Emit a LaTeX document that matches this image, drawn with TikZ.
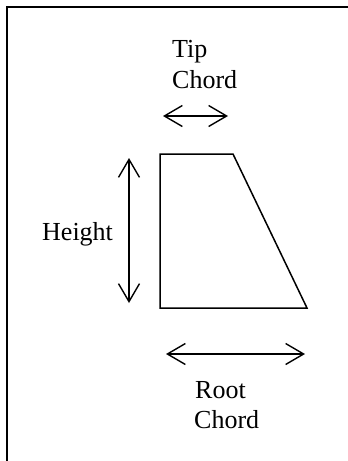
\documentclass[tikz,border=0pt]{standalone}
\usepackage{fontspec}
\setmainfont{Liberation Serif}
\usetikzlibrary{arrows.meta}
\begin{document}
\begin{tikzpicture}[x=1pt,y=-1pt,
  lbl/.style={anchor=base west,inner sep=0pt,font=\fontsize{26}{31}\selectfont,align=left},
  dimarrow/.style={line width=1.4pt,{Straight Barb[length=18pt,width=21pt,line width=1.4pt]}-{Straight Barb[length=18pt,width=21pt,line width=1.4pt]}},
  shapeline/.style={line width=1.5pt,line join=miter}]
\useasboundingbox (0,0) rectangle (348,461);
% frame (continues past right and bottom edges)
\draw[line width=1.7pt] (7,461) -- (7,7) -- (348,7);
% trapezoid
\coordinate (tl) at (160,154);
\coordinate (tr) at (233,154);
\coordinate (br) at (307,308);
\coordinate (bl) at (160,308);
\draw[shapeline] (tl) -- (tr) -- (br) -- (bl) -- cycle;
% dimension arrows
\coordinate (tipL) at (163,116);
\coordinate (tipR) at (228,116);
\draw[dimarrow] (tipL) -- (tipR);
\coordinate (hT) at (129,158);
\coordinate (hB) at (129,303);
\draw[dimarrow] (hT) -- (hB);
\coordinate (rootL) at (166,354);
\coordinate (rootR) at (305,354);
\draw[dimarrow] (rootL) -- (rootR);
% labels
\node[lbl] (tip) at (172,57) {Tip};
\node[lbl] (tipchord) at (172,88) {Chord};
\node[lbl] (height) at (42,240) {Height};
\node[lbl] (root) at (195,398) {Root};
\node[lbl] (rootchord) at (194,428) {Chord};
\end{tikzpicture}
\end{document}
